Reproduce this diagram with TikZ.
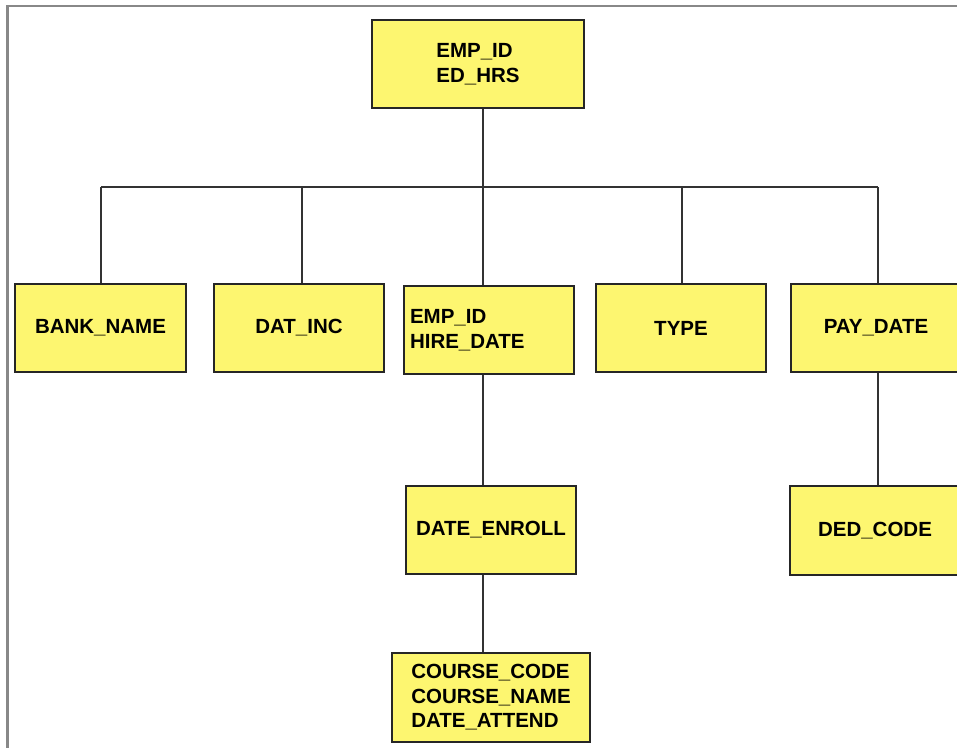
\documentclass[tikz,border=0pt]{standalone}
\usepackage{fontspec}
\setmainfont{Liberation Sans}
\usepackage{tikz}
\definecolor{entyellow}{RGB}{253,246,112}
\definecolor{framegray}{RGB}{136,136,136}
\tikzset{
	ent/.style={draw=black!85, line width=1.6pt, fill=entyellow, minimum width=170pt, minimum height=88pt, inner sep=0pt, align=left, font=\bfseries\fontsize{20.5}{24.5}\selectfont},
	link/.style={draw=black!80, line width=1.6pt}
}

\begin{document}
\begin{tikzpicture}[x=1pt,y=-1pt]
			%%%%% START %%%%%
			
			\useasboundingbox (0,0) rectangle (957,747);
			\clip (0,0) rectangle (957,747);
			\draw[line width=2.5pt, color=framegray] (7.5,6) rectangle (990,780);
			
			\node[ent, minimum width=212pt] (edhrs) at (478,64) {EMP\_ID\\ED\_HRS};
			
			\node[ent, minimum width=171pt] (bankname) at (100.5,328) {BANK\_NAME};
			\node[ent] (datinc) at (299,328) {DAT\_INC};
			\node[ent, text width=158pt, inner xsep=6pt] (hiredate) at (489,330) {EMP\_ID\\HIRE\_DATE};
			\node[ent] (type) at (681,328) {TYPE};
			\node[ent] (paydate) at (876,328) {PAY\_DATE};
			
			\node[ent] (dateenroll) at (491,530) {DATE\_ENROLL};
			\node[ent, minimum height=89pt] (dedcode) at (875,530.5) {DED\_CODE};
			
			\node[ent, minimum width=198pt, minimum height=89pt] (coursecode) at (491,697.5) {COURSE\_CODE\\COURSE\_NAME\\DATE\_ATTEND};
			
			\coordinate (bus1) at (101,187);
			\coordinate (bus2) at (302,187);
			\coordinate (bus3) at (483,187);
			\coordinate (bus4) at (682,187);
			\coordinate (bus5) at (878,187);
			
			\draw[link] (edhrs.south -| bus3) -- (bus3);
			\draw[link] (bus1) -- (bus5);
			\draw[link] (bus1) -- (bus1 |- bankname.north);
			\draw[link] (bus2) -- (bus2 |- datinc.north);
			\draw[link] (bus3) -- (bus3 |- hiredate.north);
			\draw[link] (bus4) -- (bus4 |- type.north);
			\draw[link] (bus5) -- (bus5 |- paydate.north);
			
			\draw[link] (hiredate.south -| bus3) -- (bus3 |- dateenroll.north);
			\draw[link] (dateenroll.south -| bus3) -- (bus3 |- coursecode.north);
			\draw[link] (paydate.south -| bus5) -- (bus5 |- dedcode.north);
			
			%%%%% END %%%%%
\end{tikzpicture}
\end{document}
